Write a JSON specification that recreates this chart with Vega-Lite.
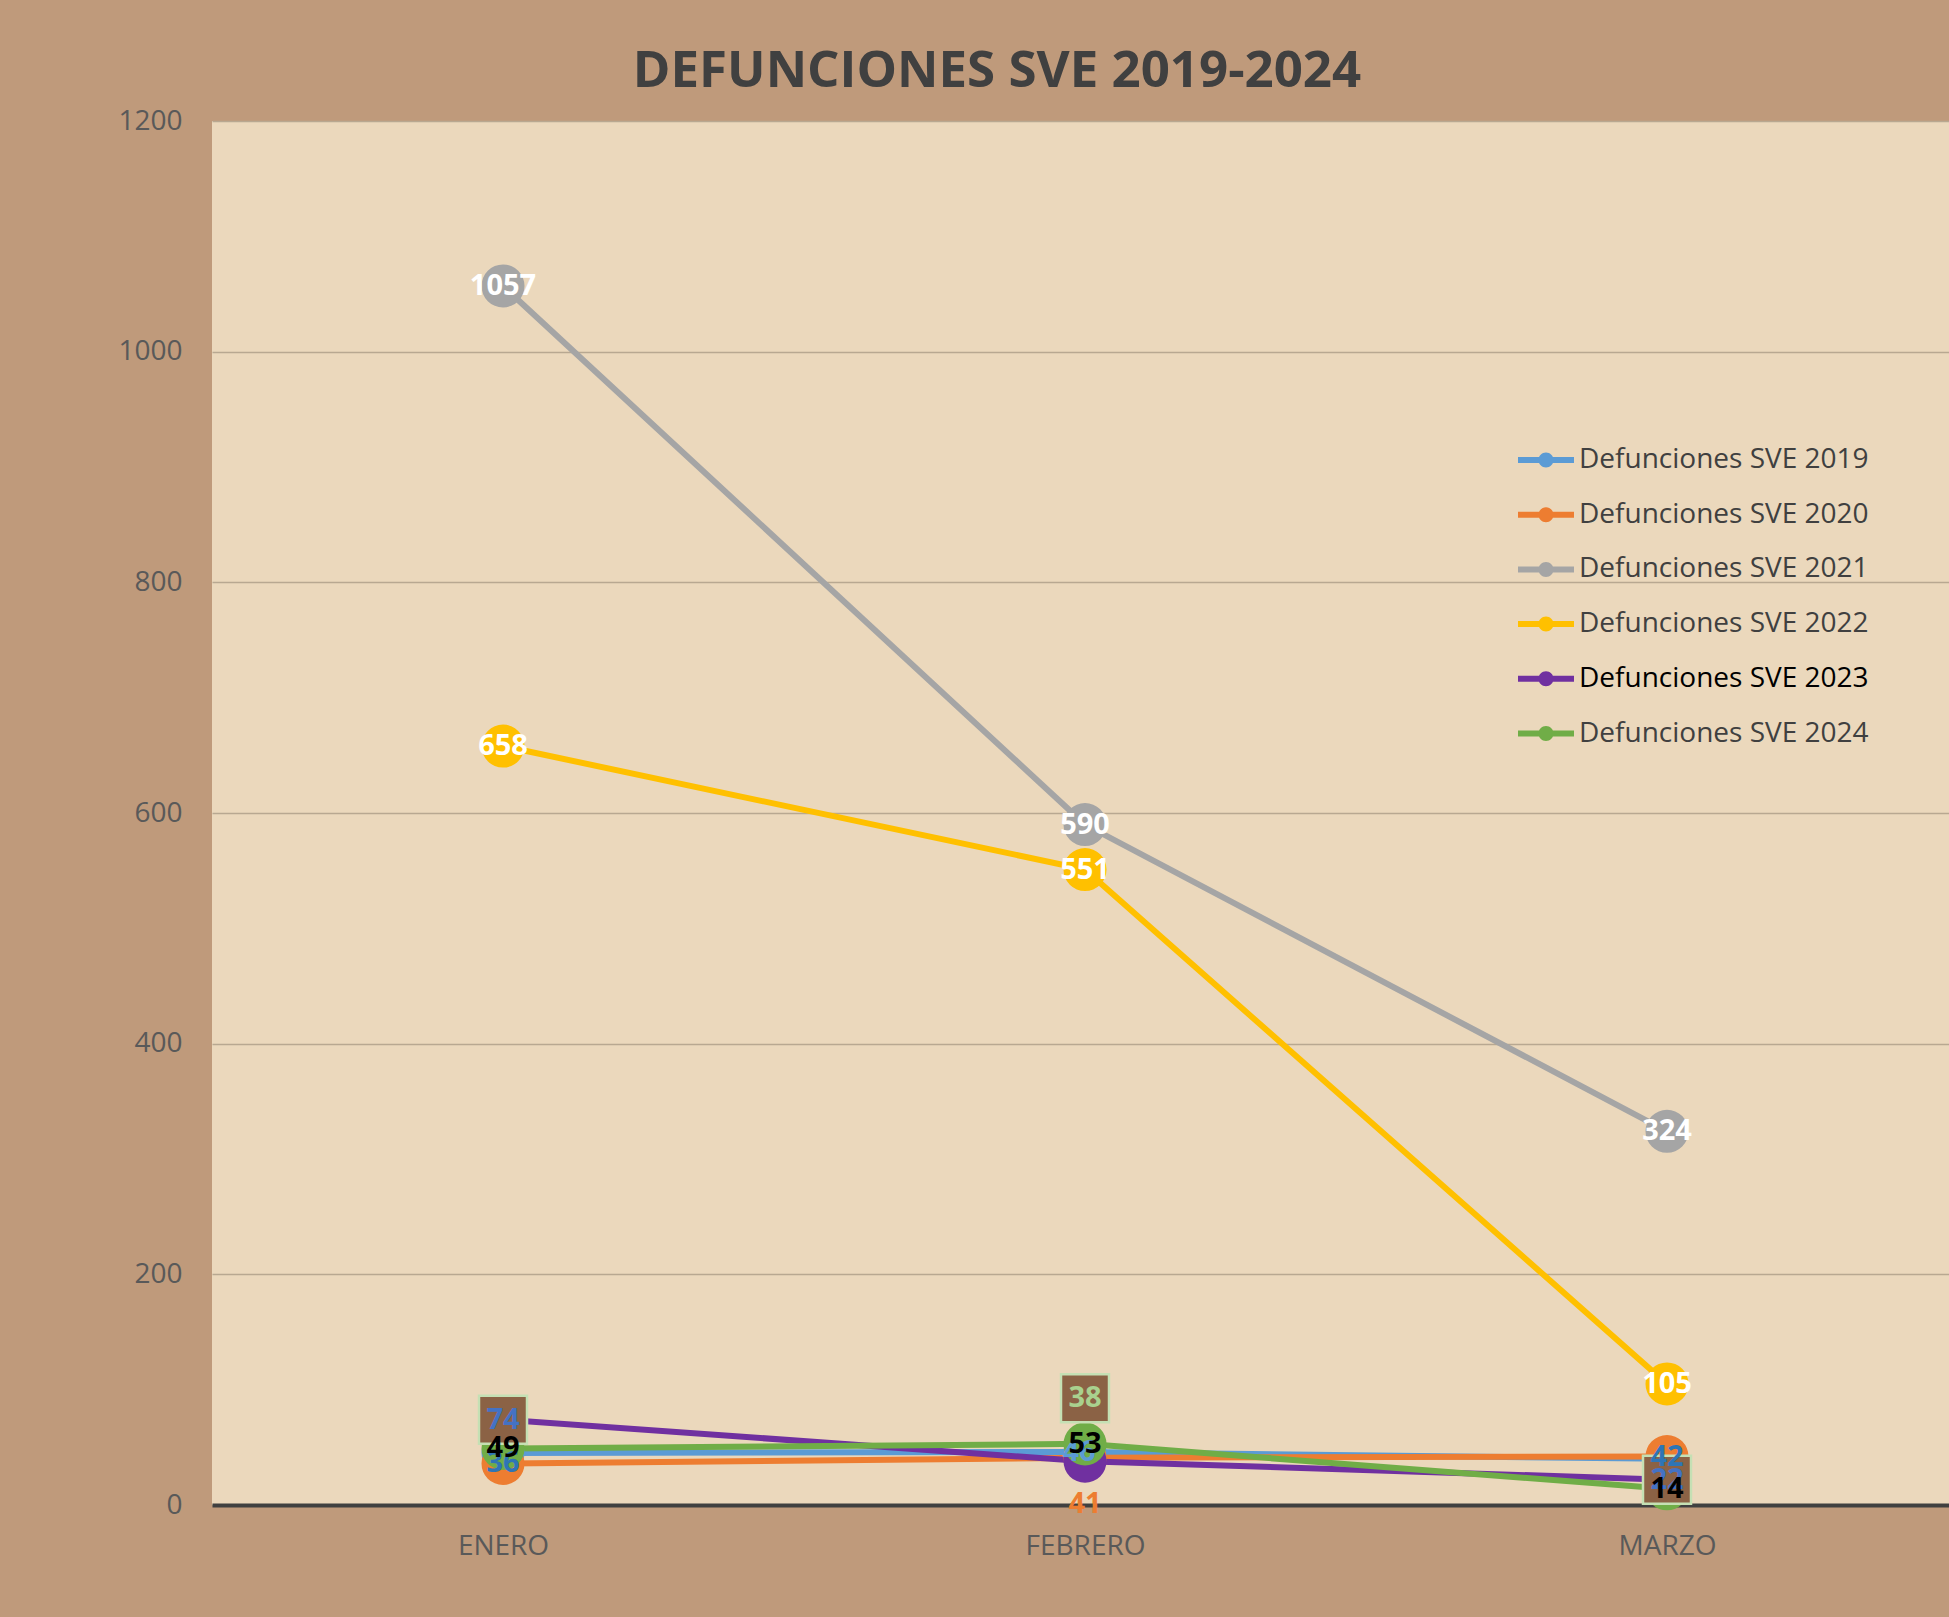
{
  "$schema": "https://vega.github.io/schema/vega-lite/v6.json",
  "autosize": {"type": "none"},
  "padding": {"left": 212, "top": 121, "right": 0, "bottom": 112},
  "width": 1746,
  "height": 1384,
  "background": "#BF9A7B",
  "title": {"text": "DEFUNCIONES SVE 2019-2024", "font": "Open Sans", "fontSize": 51, "fontWeight": "bold", "color": "#404040", "anchor": "middle", "frame": "group", "dx": -88, "offset": 9},
  "config": {"view": {"fill": "#EBD8BC", "stroke": null}, "font": "Open Sans"},
  "data": {"values": [
    {"mes": "ENERO", "serie": "Defunciones SVE 2019", "valor": 45},
    {"mes": "FEBRERO", "serie": "Defunciones SVE 2019", "valor": 46},
    {"mes": "MARZO", "serie": "Defunciones SVE 2019", "valor": 40},
    {"mes": "ENERO", "serie": "Defunciones SVE 2020", "valor": 36},
    {"mes": "FEBRERO", "serie": "Defunciones SVE 2020", "valor": 41},
    {"mes": "MARZO", "serie": "Defunciones SVE 2020", "valor": 42},
    {"mes": "ENERO", "serie": "Defunciones SVE 2021", "valor": 1057},
    {"mes": "FEBRERO", "serie": "Defunciones SVE 2021", "valor": 590},
    {"mes": "MARZO", "serie": "Defunciones SVE 2021", "valor": 324},
    {"mes": "ENERO", "serie": "Defunciones SVE 2022", "valor": 658},
    {"mes": "FEBRERO", "serie": "Defunciones SVE 2022", "valor": 551},
    {"mes": "MARZO", "serie": "Defunciones SVE 2022", "valor": 105},
    {"mes": "ENERO", "serie": "Defunciones SVE 2023", "valor": 74},
    {"mes": "FEBRERO", "serie": "Defunciones SVE 2023", "valor": 38},
    {"mes": "MARZO", "serie": "Defunciones SVE 2023", "valor": 22},
    {"mes": "ENERO", "serie": "Defunciones SVE 2024", "valor": 49},
    {"mes": "FEBRERO", "serie": "Defunciones SVE 2024", "valor": 53},
    {"mes": "MARZO", "serie": "Defunciones SVE 2024", "valor": 14}
  ]},
  "encoding": {
    "x": {"field": "mes", "type": "nominal", "sort": ["ENERO", "FEBRERO", "MARZO"], "scale": {"type": "point", "padding": 0.5},
      "axis": {"title": null, "labelAngle": 0, "labelFont": "Open Sans", "labelFontSize": 28, "labelColor": "#595959", "labelPadding": 27, "labelBaseline": "top", "ticks": false, "domain": true, "domainColor": "#404040", "domainWidth": 4, "grid": false}},
    "y": {"field": "valor", "type": "quantitative", "scale": {"domain": [0, 1200], "nice": false},
      "axis": {"title": null, "values": [0, 200, 400, 600, 800, 1000, 1200], "format": "d", "labelFont": "Open Sans", "labelFontSize": 28, "labelColor": "#595959", "labelPadding": 30, "ticks": false, "domain": false, "gridColor": "#B8A891", "gridWidth": 1.5}},
    "color": {"field": "serie", "type": "nominal",
      "scale": {"domain": ["Defunciones SVE 2019", "Defunciones SVE 2020", "Defunciones SVE 2021", "Defunciones SVE 2022", "Defunciones SVE 2023", "Defunciones SVE 2024"], "range": ["#5B9BD5", "#ED7D31", "#A5A5A5", "#FFC000", "#7030A0", "#70AD47"]},
      "legend": {"orient": "none", "legendX": 1309, "legendY": 314, "title": null, "padding": 0,
        "symbolType": "M-1.12,-0.12L1.12,-0.12L1.12,0.12L-1.12,0.12Z M0.3,0A0.3,0.3,0,1,1,-0.3,0A0.3,0.3,0,1,1,0.3,0Z",
        "symbolSize": 2500, "symbolStrokeWidth": 0, "symbolOpacity": 1,
        "labelFont": "Open Sans", "labelFontSize": 28, "labelColor": "#404040", "labelOffset": 8, "labelLimit": 500, "rowPadding": 15.7,
        "encode": {"labels": {"update": {"fill": {"signal": "datum.label === 'Defunciones SVE 2023' ? '#000000' : '#404040'"}}}}}}
  },
  "layer": [
    {"mark": {"type": "line", "strokeWidth": 6}},
    {"mark": {"type": "point", "filled": true, "opacity": 1, "size": 1850}},
    {"transform": [{"filter": "datum.serie === 'Defunciones SVE 2023' && datum.mes !== 'FEBRERO'"}],
     "mark": {"type": "point", "shape": "square", "filled": true, "size": 2304, "fill": "#8B6245", "stroke": "#C5E0B4", "strokeWidth": 2.5, "opacity": 1},
     "encoding": {"color": null}},
    {"transform": [{"filter": "datum.serie === 'Defunciones SVE 2023' && datum.mes === 'FEBRERO'"}],
     "mark": {"type": "point", "shape": "square", "filled": true, "size": 2304, "fill": "#8B6245", "stroke": "#C5E0B4", "strokeWidth": 2.5, "opacity": 1, "yOffset": -63},
     "encoding": {"color": null}},
    {"transform": [{"filter": "datum.serie === 'Defunciones SVE 2019' && datum.mes === 'FEBRERO'"}],
     "mark": {"type": "text", "font": "Open Sans", "fontSize": 29, "fontWeight": "bold", "color": "#5B9BD5", "baseline": "middle", "align": "center", "dx": -6},
     "encoding": {"text": {"field": "valor", "type": "quantitative"}, "color": null}},
    {"transform": [{"filter": "datum.serie === 'Defunciones SVE 2020' && datum.mes !== 'FEBRERO'"}],
     "mark": {"type": "text", "font": "Open Sans", "fontSize": 29, "fontWeight": "bold", "color": "#2E75B6", "baseline": "middle", "align": "center"},
     "encoding": {"text": {"field": "valor", "type": "quantitative"}, "color": null}},
    {"transform": [{"filter": "datum.serie === 'Defunciones SVE 2020' && datum.mes === 'FEBRERO'"}],
     "mark": {"type": "text", "font": "Open Sans", "fontSize": 29, "fontWeight": "bold", "color": "#ED7D31", "baseline": "middle", "align": "center", "dy": 46},
     "encoding": {"text": {"field": "valor", "type": "quantitative"}, "color": null}},
    {"transform": [{"filter": "datum.serie === 'Defunciones SVE 2023' && datum.mes !== 'FEBRERO'"}],
     "mark": {"type": "text", "font": "Open Sans", "fontSize": 29, "fontWeight": "bold", "color": "#4472C4", "baseline": "middle", "align": "center"},
     "encoding": {"text": {"field": "valor", "type": "quantitative"}, "color": null}},
    {"transform": [{"filter": "datum.serie === 'Defunciones SVE 2023' && datum.mes === 'FEBRERO'"}],
     "mark": {"type": "text", "font": "Open Sans", "fontSize": 29, "fontWeight": "bold", "color": "#A9D18E", "baseline": "middle", "align": "center", "dy": -63},
     "encoding": {"text": {"field": "valor", "type": "quantitative"}, "color": null}},
    {"transform": [{"filter": "datum.serie === 'Defunciones SVE 2024'"}],
     "mark": {"type": "text", "font": "Open Sans", "fontSize": 29, "fontWeight": "bold", "color": "#000000", "baseline": "middle", "align": "center"},
     "encoding": {"text": {"field": "valor", "type": "quantitative"}, "color": null}},
    {"transform": [{"filter": "datum.serie === 'Defunciones SVE 2021' || datum.serie === 'Defunciones SVE 2022'"}],
     "mark": {"type": "text", "font": "Open Sans", "fontSize": 29, "fontWeight": "bold", "color": "#FFFFFF", "baseline": "middle", "align": "center"},
     "encoding": {"text": {"field": "valor", "type": "quantitative"}, "color": null}}
  ]
}
